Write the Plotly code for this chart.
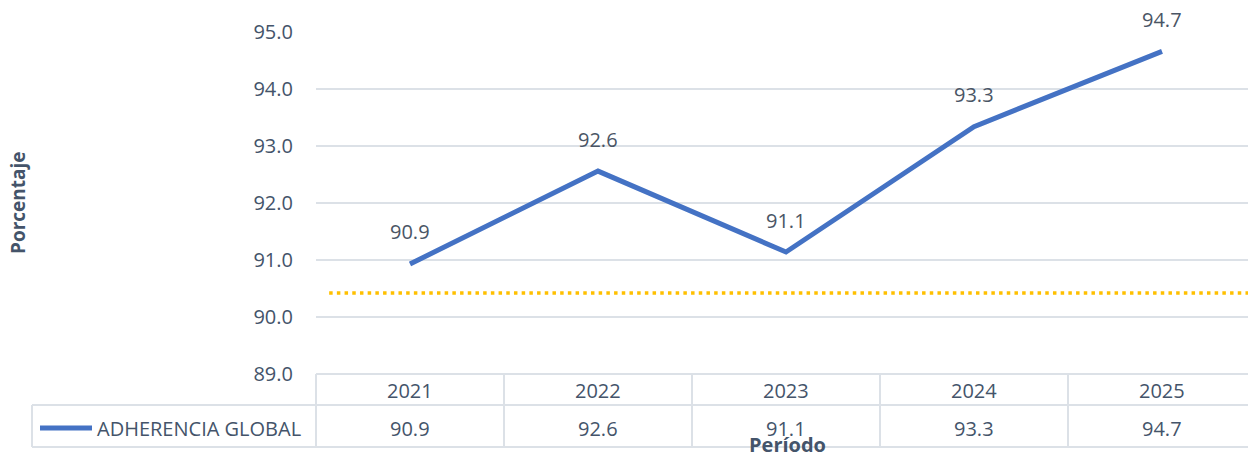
import plotly.graph_objects as go

categories = ["2021", "2022", "2023", "2024", "2025"]
values = [90.93, 92.56, 91.14, 93.34, 94.66]
labels = ["90.9", "92.6", "91.1", "93.3", "94.7"]
threshold = 90.42
series_name = "ADHERENCIA GLOBAL"
y_ticks = [89, 90, 91, 92, 93, 94, 95]

W, H = 1248, 458
ML, MT, MB, MR = 316, 32, 84, 0
PW = W - ML - MR
PH = H - MT - MB
COLW = 188.0

TXT = "#44546A"
GRID = "#DCE1E7"
FONT = "Open Sans"
BLUE = "#4472C4"
FS = 20

def px_x(px):
    return (px - ML) / PW

def px_y(py):
    return (MT + PH - py) / PH

fig = go.Figure()
xs = list(range(len(categories)))
xmax = -0.5 + PW / COLW
fig.add_trace(go.Scatter(
    x=[-0.43, xmax], y=[threshold, threshold], mode="lines",
    line=dict(color="#FFC000", width=3.5, dash="3.5px,4.2px"), showlegend=False, hoverinfo="skip"))
fig.add_trace(go.Scatter(
    x=xs, y=values, mode="lines", name=series_name,
    line=dict(color=BLUE, width=5), showlegend=False))

for i, (v, t) in enumerate(zip(values, labels)):
    fig.add_annotation(x=i, y=v, text=t, showarrow=False, yshift=32, yanchor="middle",
                       font=dict(family=FONT, size=FS, color="#4A5565"))

shapes = []
line_style = dict(color=GRID, width=2)
y_top = 0.0
y_mid = px_y(405)
y_bot = px_y(447)
shapes.append(dict(type="line", xref="paper", yref="paper", x0=0, x1=1, y0=y_top, y1=y_top, line=line_style))
shapes.append(dict(type="line", xref="paper", yref="paper", x0=px_x(32), x1=1, y0=y_mid, y1=y_mid, line=line_style))
shapes.append(dict(type="line", xref="paper", yref="paper", x0=px_x(32), x1=1, y0=y_bot, y1=y_bot, line=line_style))
shapes.append(dict(type="line", xref="paper", yref="paper", x0=px_x(32), x1=px_x(32), y0=y_mid, y1=y_bot, line=line_style))
for k in range(len(categories)):
    xb = px_x(316 + k * COLW)
    shapes.append(dict(type="line", xref="paper", yref="paper", x0=xb, x1=xb, y0=y_top, y1=y_bot, line=line_style))
shapes.append(dict(type="line", xref="paper", yref="paper", x0=px_x(40), x1=px_x(92),
                   y0=px_y(428), y1=px_y(428), line=dict(color=BLUE, width=5)))
fig.update_layout(shapes=shapes)

for i, (c, t) in enumerate(zip(categories, labels)):
    fig.add_annotation(x=i, xref="x", yref="paper", y=px_y(390), text=c, showarrow=False,
                       xanchor="center", yanchor="middle", font=dict(family=FONT, size=FS, color=TXT))
    fig.add_annotation(x=i, xref="x", yref="paper", y=px_y(428), text=t, showarrow=False,
                       xanchor="center", yanchor="middle", font=dict(family=FONT, size=FS, color=TXT))

fig.add_annotation(xref="paper", yref="paper", x=px_x(787), y=px_y(445), text="<b>Período</b>",
                   xanchor="center", yanchor="middle", showarrow=False, borderpad=0,
                   font=dict(family=FONT, size=20, color="#44546A"))
fig.add_annotation(xref="paper", yref="paper", x=px_x(95), y=px_y(428), text=series_name,
                   xanchor="left", yanchor="middle", showarrow=False,
                   font=dict(family=FONT, size=FS, color=TXT))
fig.add_annotation(xref="paper", yref="paper", x=px_x(18), y=px_y(203), text="<b>Porcentaje</b>",
                   xanchor="center", yanchor="middle", textangle=-90, showarrow=False, borderpad=0,
                   font=dict(family=FONT, size=19, color="#44546A"))

fig.update_xaxes(range=[-0.5, xmax], showticklabels=False, showgrid=False,
                 zeroline=False, showline=False)
fig.update_yaxes(range=[89, 95], tickvals=y_ticks, ticktext=[f"{v:.1f}" for v in y_ticks],
                 showgrid=True, gridcolor=GRID, gridwidth=2, zeroline=False, showline=False,
                 ticklabelstandoff=22, tickfont=dict(family=FONT, size=FS, color=TXT))
fig.update_layout(width=W, height=H, margin=dict(l=ML, r=MR, t=MT, b=MB),
                  plot_bgcolor="white", paper_bgcolor="white", showlegend=False)
fig.update_traces(cliponaxis=False)
fig.write_html("out.html", config={"displayModeBar": False},
               post_script="document.body.style.margin='0';document.body.style.overflow='hidden';")
